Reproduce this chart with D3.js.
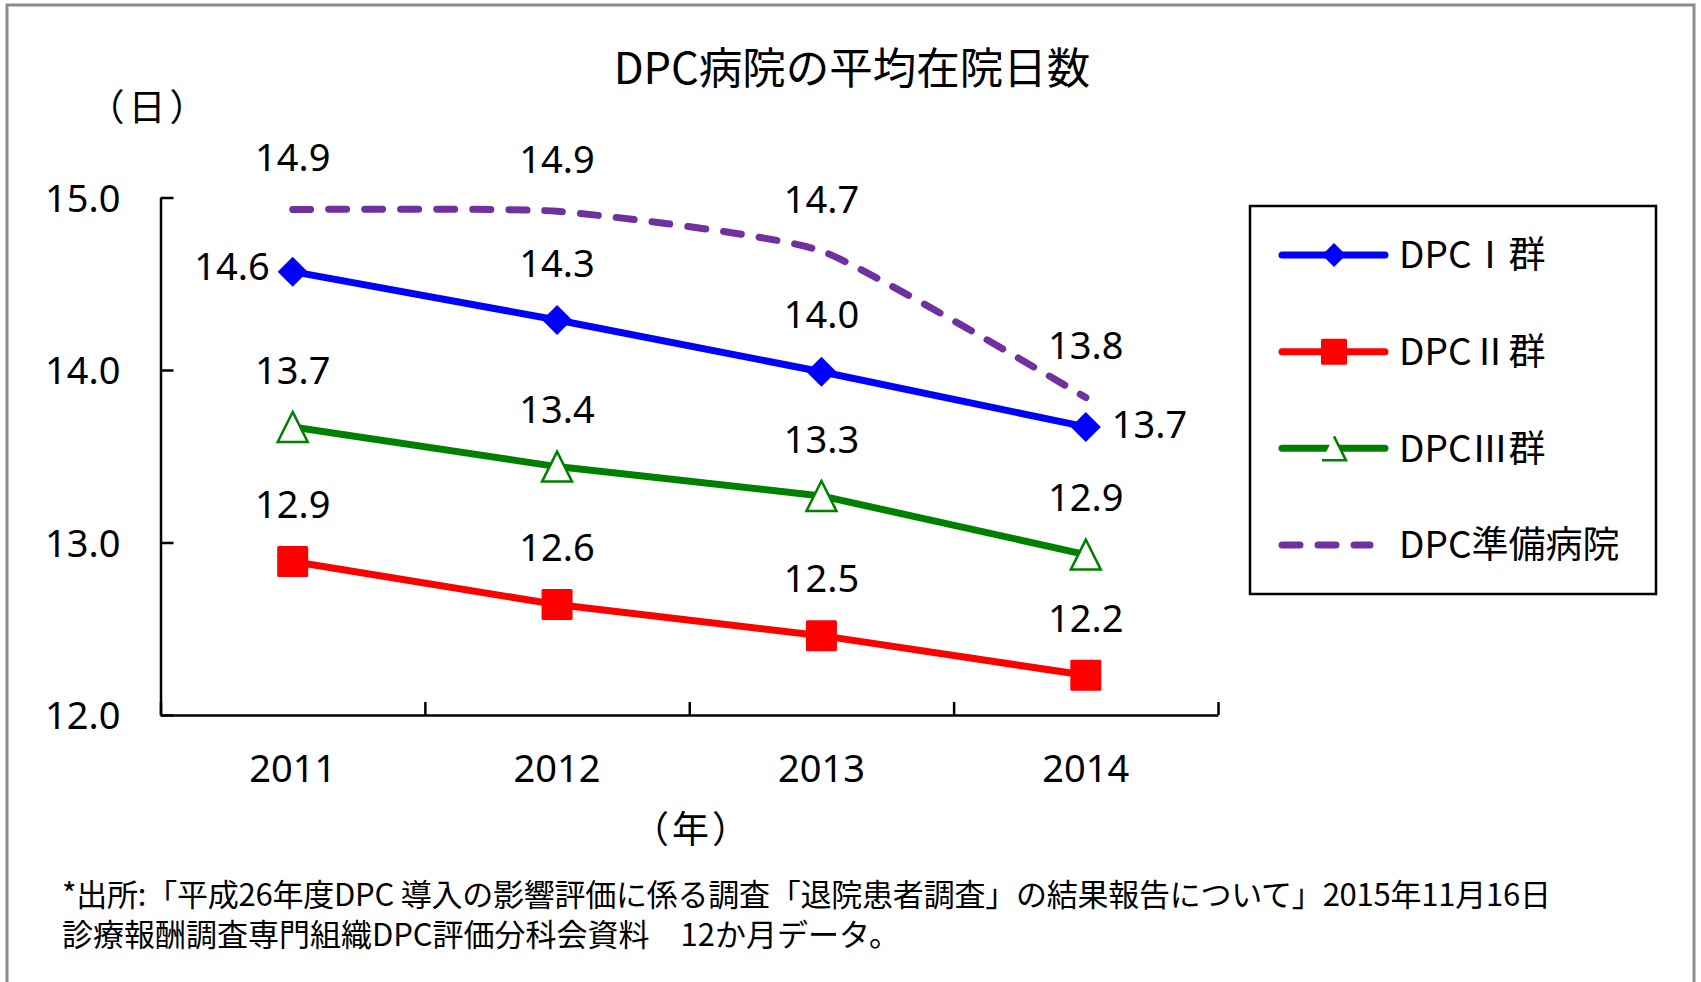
<!DOCTYPE html>
<html>
<head>
<meta charset="utf-8">
<script src="https://cdn.jsdelivr.net/npm/d3@7"></script>
<style>
  body { margin: 0; background: #fff; }
  svg { display: block; }
  .num { font-family: 'Noto Sans', 'Noto Sans CJK JP', sans-serif; }
  .jp { font-family: 'Noto Sans CJK JP', 'Noto Sans', sans-serif; }
</style>
</head>
<body>
<svg id="chart" width="1701" height="982"></svg>
<script>
// data
var years = ["2011", "2012", "2013", "2014"];
var dpc1 = [14.57, 14.29, 13.99, 13.67];
var dpc2 = [12.89, 12.64, 12.46, 12.23];
var dpc3 = [13.67, 13.44, 13.27, 12.93];
var dpcPrep = [14.93, 14.92, 14.69, 13.84];
var seriesNames = ["DPCⅠ群", "DPCⅡ群", "DPCⅢ群", "DPC準備病院"];
var yTicks = [12, 13, 14, 15];

var titleText = "DPC病院の平均在院日数";
var yUnit = "（日）";
var xUnit = "（年）";
var note1 = "*出所:「平成26年度DPC 導入の影響評価に係る調査「退院患者調査」の結果報告について」2015年11月16日";
var note2 = "診療報酬調査専門組織DPC評価分科会資料　12か月データ。";

var svg = d3.select("#chart");

/* frame around the whole picture */
svg.append("rect")
    .attr("x", 7).attr("y", 5)
    .attr("width", 1687).attr("height", 1000)
    .attr("fill", "none")
    .attr("stroke", "#8c8c8c")
    .attr("stroke-width", 3);

var plot = {left: 160.5, right: 1218, top: 197.5, bottom: 715};

var x = d3.scaleBand().domain(years).range([plot.left, plot.right]).padding(0);
var xEdge = d3.scaleLinear().domain([0, years.length]).range([plot.left, plot.right]);
var y = d3.scaleLinear().domain([12, 15]).range([plot.bottom, plot.top]);

function cx(i) { return x(years[i]) + x.bandwidth() / 2; }

/* title and unit labels */
svg.append("text")
    .attr("class", "jp")
    .attr("x", 852).attr("y", 68)
    .attr("dy", "0.36em")
    .attr("text-anchor", "middle")
    .attr("font-size", 43.5)
    .text(titleText);

svg.append("text")
    .attr("class", "jp")
    .attr("x", 149).attr("y", 108)
    .attr("dy", "0.36em")
    .attr("text-anchor", "middle")
    .attr("font-size", 37)
    .attr("letter-spacing", 4)
    .text(yUnit);

svg.append("text")
    .attr("class", "jp")
    .attr("x", 692).attr("y", 830)
    .attr("dy", "0.36em")
    .attr("text-anchor", "middle")
    .attr("font-size", 37)
    .attr("letter-spacing", 3)
    .text(xUnit);

/* axes */
var yAxis = svg.append("g")
    .attr("transform", "translate(" + plot.left + ",0)")
    .call(d3.axisLeft(y).tickValues(yTicks).tickSize(-13).tickSizeOuter(0)
      .tickPadding(40).tickFormat(d3.format(".1f")));

var xTickAxis = svg.append("g")
    .attr("transform", "translate(0," + plot.bottom + ")")
    .call(d3.axisBottom(xEdge).tickValues(d3.range(years.length + 1)).tickSize(-13)
      .tickSizeOuter(0).tickFormat(""));

var xLabelAxis = svg.append("g")
    .attr("transform", "translate(0," + plot.bottom + ")")
    .call(d3.axisBottom(x).tickSize(0).tickPadding(40));
xLabelAxis.select(".domain").remove();

[yAxis, xTickAxis, xLabelAxis].forEach(function(g) {
  g.selectAll("path, line").attr("stroke", "#000").attr("stroke-width", 2.5);
  g.selectAll("text")
    .attr("class", "num")
    .attr("font-size", 38)
    .attr("fill", "#000");
});
xLabelAxis.selectAll("text").attr("dy", "0.36em").attr("y", 53);
yAxis.selectAll("text").attr("dy", "0.36em");

/* lines */
var line = d3.line()
    .x(function(d, i) { return cx(i); })
    .y(function(d) { return y(d); });

// the preparation-hospital series is a smoothed line in the original
var smooth = d3.line()
    .x(function(d, i) { return cx(i); })
    .y(function(d) { return y(d); })
    .curve(d3.curveCardinal.tension(0.5));

svg.append("path").datum(dpcPrep)
    .attr("d", smooth)
    .attr("fill", "none")
    .attr("stroke", "#7030A0")
    .attr("stroke-width", 7)
    .attr("stroke-linecap", "round")
    .attr("stroke-dasharray", "18,18");

var series = [
  {values: dpc1, color: "#0000FF", marker: "diamond"},
  {values: dpc2, color: "#FF0000", marker: "square"},
  {values: dpc3, color: "#008000", marker: "triangle"}
];

series.forEach(function(s) {
  svg.append("path").datum(s.values)
    .attr("d", line)
    .attr("fill", "none")
    .attr("stroke", s.color)
    .attr("stroke-width", 7);
});

function drawMarker(g, type, px, py, size, color) {
  var h = size / 2;
  if (type == "diamond") {
    g.append("path")
      .attr("d", "M" + px + "," + (py - h) + "L" + (px + h) + "," + py + "L" + px + "," + (py + h) + "L" + (px - h) + "," + py + "Z")
      .attr("fill", color);
  } else if (type == "square") {
    g.append("rect")
      .attr("x", px - h).attr("y", py - h)
      .attr("width", size).attr("height", size)
      .attr("rx", 1.5)
      .attr("fill", color);
  } else if (type == "triangle") {
    g.append("path")
      .attr("d", "M" + px + "," + (py - h) + "L" + (px + h) + "," + (py + h) + "L" + (px - h) + "," + (py + h) + "Z")
      .attr("fill", "#fff")
      .attr("stroke", color)
      .attr("stroke-width", 2.5);
  }
}

var markers = svg.append("g");
series.forEach(function(s) {
  s.values.forEach(function(v, i) {
    drawMarker(markers, s.marker, cx(i), y(v), s.marker == "square" ? 31 : 30, s.color);
  });
});

/* data labels */
var labels = svg.append("g").attr("class", "num").attr("font-size", 38);

dpcPrep.forEach(function(v, i) {
  labels.append("text")
    .attr("x", cx(i)).attr("y", y(v) - 52)
    .attr("dy", "0.36em")
    .attr("text-anchor", "middle")
    .text(v.toFixed(1));
});

series.forEach(function(s, si) {
  s.values.forEach(function(v, i) {
    var t = labels.append("text").attr("dy", "0.36em").text(v.toFixed(1));
    if (si == 0 && i == 0) {
      t.attr("x", cx(i) - 23).attr("y", y(v) - 5).attr("text-anchor", "end");
    } else if (si == 0 && i == s.values.length - 1) {
      t.attr("x", cx(i) + 26).attr("y", y(v) - 3).attr("text-anchor", "start");
    } else {
      t.attr("x", cx(i)).attr("y", y(v) - 57).attr("text-anchor", "middle");
    }
  });
});

/* legend */
var legend = svg.append("g");
legend.append("rect")
    .attr("x", 1250).attr("y", 206)
    .attr("width", 406).attr("height", 388)
    .attr("fill", "#fff")
    .attr("stroke", "#000")
    .attr("stroke-width", 2.5);

var legendY = d3.scalePoint().domain(seriesNames).range([255, 545]);
var legendStyles = [
  {color: "#0000FF", marker: "diamond", size: 24},
  {color: "#FF0000", marker: "square", size: 26},
  {color: "#008000", marker: "tri-open", size: 24},
  {color: "#7030A0", marker: "dash", size: 0}
];

seriesNames.forEach(function(name, i) {
  var ly = legendY(name), st = legendStyles[i];
  var seg = legend.append("line")
    .attr("x1", 1282).attr("x2", 1385)
    .attr("y1", ly).attr("y2", ly)
    .attr("stroke", st.color)
    .attr("stroke-width", 7)
    .attr("stroke-linecap", "round");
  if (st.marker == "dash") {
    seg.attr("x2", 1370).attr("stroke-dasharray", "18,18");
  } else if (st.marker == "tri-open") {
    var h = st.size / 2, px = 1334;
    legend.append("path")
      .attr("d", "M" + px + "," + (ly - h) + "L" + (px + h) + "," + (ly + h) + "L" + (px - h) + "," + (ly + h))
      .attr("fill", "#fff")
      .attr("stroke", st.color)
      .attr("stroke-width", 2.5);
  } else {
    drawMarker(legend, st.marker, 1334, ly, st.size, st.color);
  }
  legend.append("text")
    .attr("class", "jp")
    .attr("x", 1399).attr("y", ly)
    .attr("dy", "0.36em")
    .attr("font-size", 37)
    .text(name);
});

/* source note */
svg.append("text")
    .attr("class", "jp")
    .attr("x", 62).attr("y", 895)
    .attr("dy", "0.36em")
    .attr("font-size", 31)
    .attr("textLength", 1489)
    .attr("lengthAdjust", "spacing")
    .text(note1);

svg.append("text")
    .attr("class", "jp")
    .attr("x", 62).attr("y", 935)
    .attr("dy", "0.36em")
    .attr("font-size", 31)
    .attr("textLength", 838)
    .attr("lengthAdjust", "spacing")
    .text(note2);
</script>
</body>
</html>
